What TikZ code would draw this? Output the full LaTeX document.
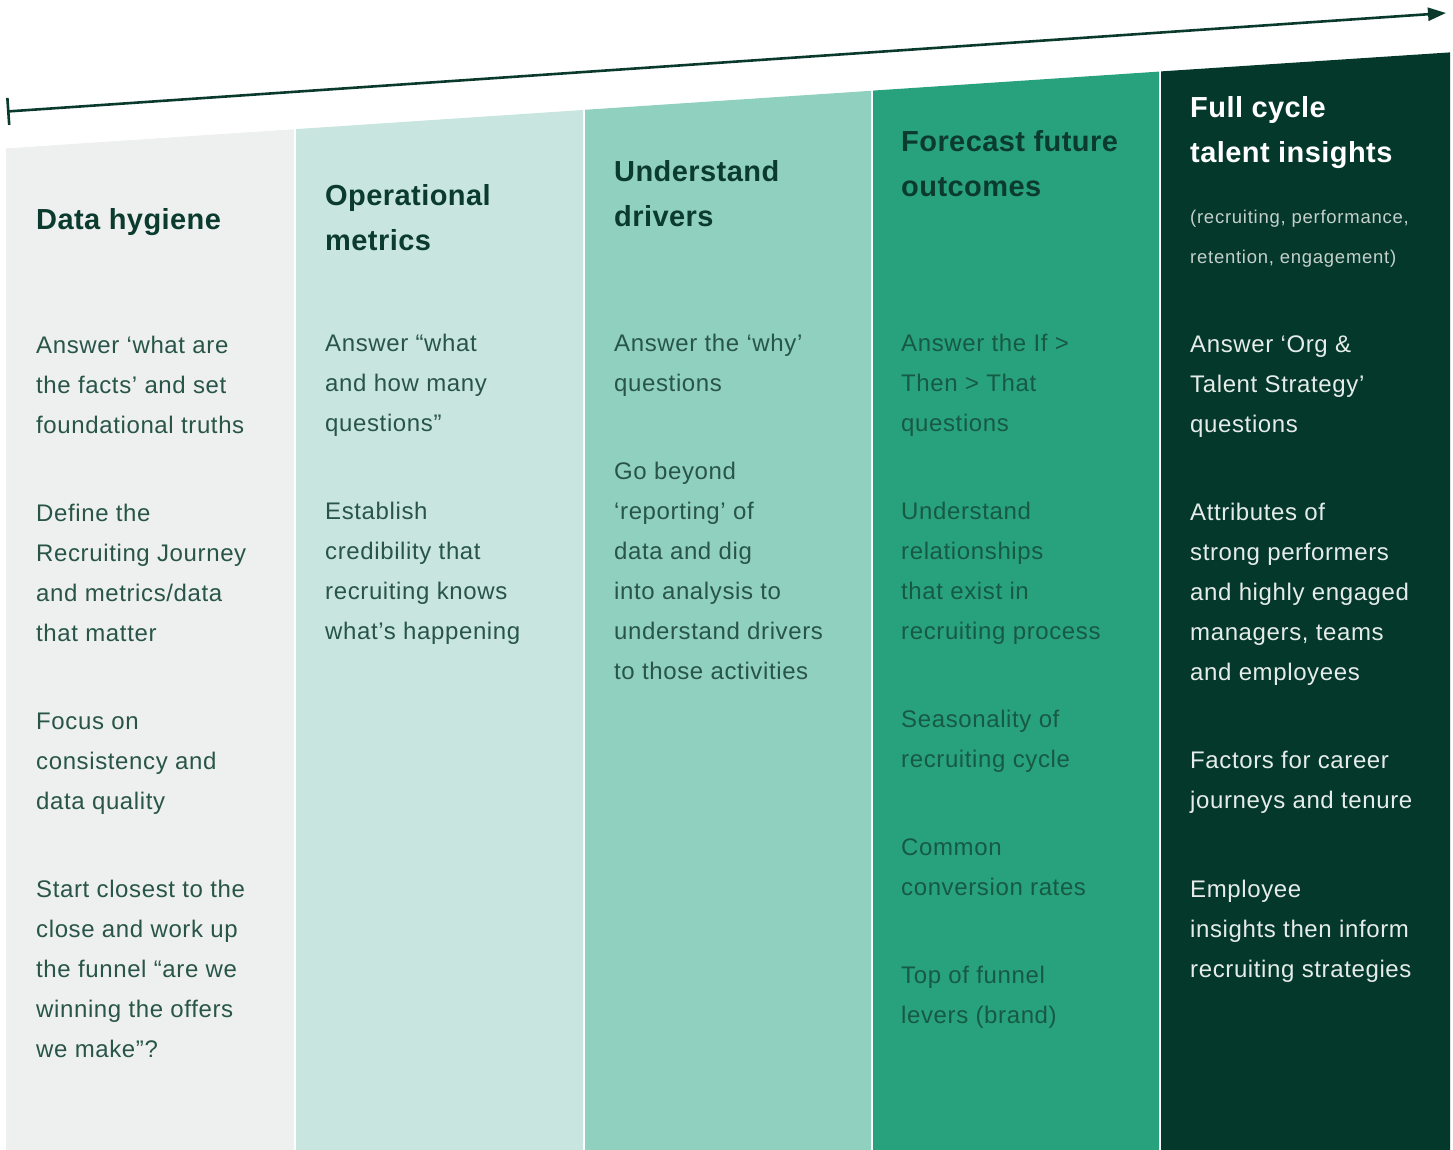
\documentclass[tikz,border=0pt]{standalone}
\usepackage{fontspec}
\setmainfont{Liberation Sans}
\newfontfamily\bodyfont[LetterSpace=2.6]{Liberation Sans}
\newfontfamily\headfont[LetterSpace=1.5]{Liberation Sans}
\newfontfamily\notefont[LetterSpace=4.0]{Liberation Sans}
\usetikzlibrary{arrows.meta}

\definecolor{stageA}{HTML}{EEF0EF}
\definecolor{stageB}{HTML}{C8E6DF}
\definecolor{stageC}{HTML}{90D0BF}
\definecolor{stageD}{HTML}{28A27C}
\definecolor{stageE}{HTML}{03382A}
\definecolor{axisgreen}{HTML}{0A3A2C}
\definecolor{titlegreen}{HTML}{0B3B2E}
\definecolor{bodygreen}{HTML}{285548}
\definecolor{bodyonmid}{HTML}{175A43}
\definecolor{bodyondark}{HTML}{E6ECE9}
\definecolor{subondark}{HTML}{C5D0CB}

\tikzset{
  head/.style={anchor=north west, inner sep=0pt, align=left, text=titlegreen,
    font=\headfont\bfseries\fontsize{29}{45}\selectfont},
  body/.style={anchor=north west, inner sep=0pt, align=left, text=bodygreen,
    font=\bodyfont\fontsize{24}{40}\selectfont},
  subnote/.style={anchor=north west, inner sep=0pt, align=left, text=subondark,
    font=\notefont\fontsize{18.5}{40}\selectfont},
}

\begin{document}
\begin{tikzpicture}[x=1pt, y=-1pt]
\useasboundingbox (0,0) rectangle (1453,1150);

% five stage columns, tops rising to the right
\fill[stageA] (6,148.4)   -- (294,129.2)  -- (294,1150)  -- (6,1150)   -- cycle;
\fill[stageB] (296,129.1) -- (583,110.0)  -- (583,1150)  -- (296,1150) -- cycle;
\fill[stageC] (585,109.8) -- (871,90.8)   -- (871,1150)  -- (585,1150) -- cycle;
\fill[stageD] (873,90.6)  -- (1159,71.6)  -- (1159,1150) -- (873,1150) -- cycle;
\fill[stageE] (1161,71.4) -- (1450,52.4)  -- (1450,1150) -- (1161,1150) -- cycle;

% maturity axis
\coordinate (axisstart) at (7,111.5);
\coordinate (axisend) at (1446,13);
\draw[axisgreen, line width=2.6pt,
  {Bar[width=27pt,line width=2.6pt]}-{Triangle[length=18pt,width=13pt]}]
  (axisstart) -- (axisend);

% column 1
\node[head] (t1) at (36,229-31.5) {\strut Data hygiene};
\node[body] (p11) at (36,353-28) {\strut Answer ‘what are\\the facts’ and set\\foundational truths};
\node[body] (p12) at (36,521-28) {\strut Define the\\Recruiting Journey\\and metrics/data\\that matter};
\node[body] (p13) at (36,729-28) {\strut Focus on\\consistency and\\data quality};
\node[body] (p14) at (36,897-28) {\strut Start closest to the\\close and work up\\the funnel “are we\\winning the offers\\we make”?};

% column 2
\node[head] (t2) at (325,205-31.5) {\strut Operational\\metrics};
\node[body] (p21) at (325,351-28) {\strut Answer “what\\and how many\\questions”};
\node[body] (p22) at (325,519-28) {\strut Establish\\credibility that\\recruiting knows\\what’s happening};

% column 3
\node[head] (t3) at (614,181-31.5) {\strut Understand\\drivers};
\node[body] (p31) at (614,351-28) {\strut Answer the ‘why’\\questions};
\node[body] (p32) at (614,479-28) {\strut Go beyond\\‘reporting’ of\\data and dig\\into analysis to\\understand drivers\\to those activities};

% column 4
\node[head] (t4) at (901,151-31.5) {\strut Forecast future\\outcomes};
\node[body, text=bodyonmid] (p41) at (901,351-28) {\strut Answer the If >\\Then > That\\questions};
\node[body, text=bodyonmid] (p42) at (901,519-28) {\strut Understand\\relationships\\that exist in\\recruiting process};
\node[body, text=bodyonmid] (p43) at (901,727-28) {\strut Seasonality of\\recruiting cycle};
\node[body, text=bodyonmid] (p44) at (901,855-28) {\strut Common\\conversion rates};
\node[body, text=bodyonmid] (p45) at (901,983-28) {\strut Top of funnel\\levers (brand)};

% column 5
\node[head, text=white] (t5) at (1190,117-31.5) {\strut Full cycle\\talent insights};
\node[subnote] (s5) at (1190,223-28) {\strut (recruiting, performance,\\retention, engagement)};
\node[body, text=bodyondark] (p51) at (1190,352-28) {\strut Answer ‘Org \&\\Talent Strategy’\\questions};
\node[body, text=bodyondark] (p52) at (1190,520-28) {\strut Attributes of\\strong performers\\and highly engaged\\managers, teams\\and employees};
\node[body, text=bodyondark] (p53) at (1190,768-28) {\strut Factors for career\\journeys and tenure};
\node[body, text=bodyondark] (p54) at (1190,897-28) {\strut Employee\\insights then inform\\recruiting strategies};
\end{tikzpicture}
\end{document}
